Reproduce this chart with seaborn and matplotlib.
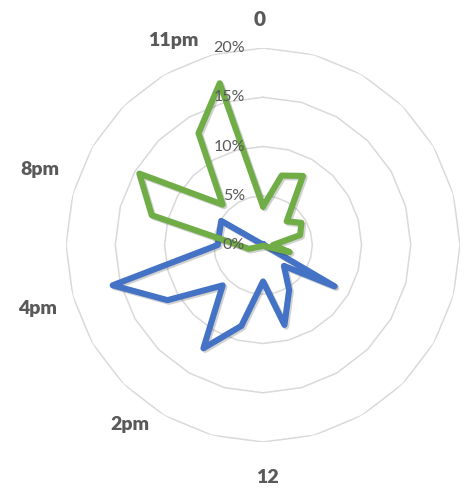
import numpy as np
import pandas as pd
import matplotlib
matplotlib.use("Agg")
import matplotlib.pyplot as plt
import seaborn as sns
from matplotlib import patheffects as pe

# ---- data ----
hours = list(range(24))
series_blue = [0.1, 0.1, 0.1, 0.1, 0.1, 0.1, 0.1, 0.2,
               8.4, 3.0, 5.3, 8.4, 3.7, 8.5, 12.1, 5.8,
               11.2, 15.8, 4.6, 4.6, 4.9, 0.1, 0.1, 0.1]
series_green = [3.9, 7.3, 8.1, 3.4, 4.5, 3.9, 1.0, 2.8,
                0.3, 0.1, 0.1, 0.1, 0.1, 0.1, 0.1, 0.2,
                0.3, 1.5, 2.5, 11.7, 14.5, 5.8, 13.1, 17.0]
radial_ticks = [0, 5, 10, 15, 20]
radial_labels = ["0%", "5%", "10%", "15%", "20%"]
cat_labels = ["0", "11pm", "8pm", "4pm", "2pm", "12"]
cat_label_angles = [359.2, 336.4, 288.8, 254.2, 216.5, 179.0]
cat_label_radii = [22.9, 22.7, 23.9, 23.8, 22.7, 23.6]

sns.set_theme(style="white")
plt.rcParams['font.family'] = ['Lato', 'DejaVu Sans']

fig = plt.figure(figsize=(4.67, 4.99), dpi=100)
ax = fig.add_axes([0.1414, 0.1142, 0.8437, 0.7896], projection='polar')
ax.set_theta_zero_location('N')
ax.set_theta_direction(-1)

theta = np.deg2rad(np.array(hours) * 360.0 / len(hours))
theta_closed = np.append(theta, 2 * np.pi)

# polygon gridlines
for lev in radial_ticks[1:]:
    ax.plot(theta_closed, [lev] * len(theta_closed), color='#D9D9D9', lw=1.1, zorder=1)

rows = []
for name, vals in [("blue", series_blue), ("green", series_green)]:
    for t, v in zip(theta_closed, vals + vals[:1]):
        rows.append(dict(series=name, theta=t, value=v))
df = pd.DataFrame(rows)

sns.lineplot(data=df, x='theta', y='value', hue='series',
             palette={'blue': '#4472C4', 'green': '#70AD47'},
             linewidth=4.4, legend=False, ax=ax, sort=False, estimator=None)
for ln in ax.lines[len(radial_ticks) - 1:]:
    ln.set_solid_joinstyle('round')
    ln.set_zorder(3)
    ln.set_path_effects([pe.SimpleLineShadow(offset=(1.2, -1.2), shadow_color='k', alpha=0.2),
                         pe.Normal()])

ax.set_ylim(0, 20)
ax.set_xticks([])
ax.set_yticks([])
ax.grid(False)
ax.spines['polar'].set_visible(False)
ax.set_xlabel('')
ax.set_ylabel('')
ax.set_facecolor('none')

for lev, lbl in zip(radial_ticks, radial_labels):
    ax.annotate(lbl, xy=(0, lev), xytext=(-13, 0), textcoords='offset points',
                ha='right', va='center', color='#595959', fontsize=11.5, zorder=6)

for lbl, ang, rad in zip(cat_labels, cat_label_angles, cat_label_radii):
    ax.text(np.deg2rad(ang), rad, lbl, ha='center', va='center', color='#595959',
            fontsize=15 if lbl == "0" else 14, fontweight='heavy', clip_on=False)

fig.savefig("out.png", dpi=100, facecolor='white')
